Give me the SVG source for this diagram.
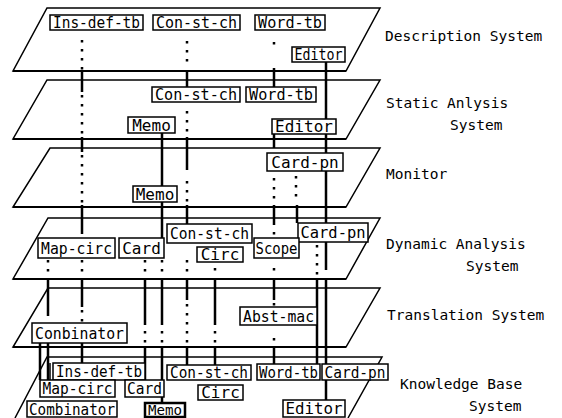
<svg xmlns="http://www.w3.org/2000/svg" width="562" height="418" viewBox="0 0 562 418">
<style>
.bg{fill:#fff}
.layer{fill:none;stroke:#000;stroke-width:1.5;stroke-linejoin:miter}
.edge{fill:none;stroke:#000;stroke-width:2.2}
.c{fill:none;stroke:#000;stroke-width:2.5}
.d{fill:none;stroke:#000;stroke-width:2.5;stroke-dasharray:2.5 6.5}
.box{fill:#fff;stroke:#000;stroke-width:1.5}
.t{font-family:"DejaVu Sans Mono","Liberation Mono",monospace;font-size:16px;fill:#000;text-anchor:middle}
.lbl{font-family:"DejaVu Sans Mono","Liberation Mono",monospace;font-size:14.5px;fill:#000}
</style>
<rect class="bg" x="0" y="0" width="562" height="418"/>
<g id="layers">
<polygon class="layer" points="47,8 380,8 346,71 13,71"/>
<polygon class="layer" points="47,80 380,80 346,139 13,139"/>
<polygon class="layer" points="50,148 380,148 346,207 13,207"/>
<polygon class="layer" points="48,218 380,218 346,279 13,279"/>
<polygon class="layer" points="48,288 380,288 346,347 13,347"/>
<path class="layer" d="M15,418 L47,357 L382,357 L348,418"/>
<path class="edge" d="M13,71 H346 M13,139 H346 M13,207 H346 M13,279 H346 M13,347 H346"/>
</g>
<g id="connectors">
<path class="c" d="M82,70 V92 M82,137 V152 M82,205 V234 M82,278 V307 M82,343 V363"/>
<path class="d" d="M82,40 V70 M82,95 V137 M82,155 V205 M82,260 V276 M82,310 V322"/>
<path class="c" d="M48,278 V316 M48,343 V380 M40,343 V380"/>
<path class="d" d="M48,260 V276"/>
<path class="c" d="M145,278 V325 M145,347 V381"/>
<path class="d" d="M145,260 V276 M145,331 V346"/>
<path class="c" d="M162,133 V186 M162,202 V238 M162,278 V325 M162,347 V403"/>
<path class="d" d="M162,260 V276 M162,331 V346"/>
<path class="c" d="M187,70 V87 M187,137 V170 M187,205 V225 M187,278 V300 M187,347 V365"/>
<path class="d" d="M187,41 V68 M187,111 V135 M187,181 V202 M187,260 V276 M187,304 V345"/>
<path class="c" d="M215,278 V325 M215,347 V365"/>
<path class="d" d="M215,268 V276 M215,331 V346"/>
<path class="c" d="M274,68 V87 M274,134 V148 M274,205 V225 M274,278 V300 M274,347 V364"/>
<path class="d" d="M274,42 V45 M274,178 V202 M274,232 V235 M274,268 V271 M274,303 V306 M274,338 V341"/>
<path class="c" d="M297,205 V223"/>
<path class="d" d="M296,176 V202"/>
<path class="c" d="M317,279 V364"/>
<path class="d" d="M317,245 V275"/>
<path class="c" d="M326,62 V119 M326,134 V153 M326,171 V270 M326,278 V400"/>
</g>
<g id="desc-ins"><rect class="box" x="50" y="15" width="93" height="15"/><text class="t" x="96.5" y="28.3" textLength="87" lengthAdjust="spacingAndGlyphs">Ins-def-tb</text></g>
<g id="desc-con"><rect class="box" x="153" y="15" width="87" height="15"/><text class="t" x="196.5" y="28.3" textLength="81" lengthAdjust="spacingAndGlyphs">Con-st-ch</text></g>
<g id="desc-word"><rect class="box" x="255" y="15" width="70" height="15"/><text class="t" x="290" y="28.3" textLength="64" lengthAdjust="spacingAndGlyphs">Word-tb</text></g>
<g id="desc-editor"><rect class="box" x="292" y="47" width="53" height="15"/><text class="t" x="318.5" y="60.3" textLength="48" lengthAdjust="spacingAndGlyphs">Editor</text></g>
<g id="static-con"><rect class="box" x="152" y="87" width="88" height="15"/><text class="t" x="196" y="100.3" textLength="82" lengthAdjust="spacingAndGlyphs">Con-st-ch</text></g>
<g id="static-word"><rect class="box" x="246" y="87" width="70" height="15"/><text class="t" x="281" y="100.3" textLength="64" lengthAdjust="spacingAndGlyphs">Word-tb</text></g>
<g id="static-memo"><rect class="box" x="128" y="117" width="47" height="16"/><text class="t" x="151.5" y="130.8">Memo</text></g>
<g id="static-editor"><rect class="box" x="272" y="119" width="64" height="15"/><text class="t" x="304" y="132.3">Editor</text></g>
<g id="mon-cardpn"><rect class="box" x="267" y="153" width="76" height="18"/><text class="t" x="305" y="167.8">Card-pn</text></g>
<g id="mon-memo"><rect class="box" x="133" y="186" width="44" height="16"/><text class="t" x="155" y="199.8">Memo</text></g>
<g id="dyn-con"><rect class="box" x="167" y="224" width="85" height="19"/><text class="t" x="209.5" y="239.3" textLength="79" lengthAdjust="spacingAndGlyphs">Con-st-ch</text></g>
<g id="dyn-cardpn"><rect class="box" x="298" y="223" width="70" height="19"/><text class="t" x="333" y="238.3" textLength="65" lengthAdjust="spacingAndGlyphs">Card-pn</text></g>
<g id="dyn-map"><rect class="box" x="38" y="238" width="77" height="20"/><text class="t" x="76.5" y="253.8" textLength="71" lengthAdjust="spacingAndGlyphs">Map-circ</text></g>
<g id="dyn-card"><rect class="box" x="119" y="238" width="45" height="20"/><text class="t" x="141.5" y="253.8">Card</text></g>
<g id="dyn-circ"><rect class="box" x="197" y="247" width="46" height="15"/><text class="t" x="220" y="260.3">Circ</text></g>
<g id="dyn-scope"><rect class="box" x="254" y="238" width="45" height="20"/><text class="t" x="276.5" y="253.8" textLength="42" lengthAdjust="spacingAndGlyphs">Scope</text></g>
<g id="tr-abst"><rect class="box" x="240" y="307" width="77" height="18"/><text class="t" x="278.5" y="321.8" textLength="71" lengthAdjust="spacingAndGlyphs">Abst-mac</text></g>
<g id="tr-conb"><rect class="box" x="32" y="323" width="95" height="20"/><text class="t" x="79.5" y="338.8" textLength="89" lengthAdjust="spacingAndGlyphs">Conbinator</text></g>
<g id="kb-ins"><rect class="box" x="53" y="363" width="92" height="17"/><path class="box" d="M50,363 V380"/><text class="t" x="99" y="377.3" textLength="86" lengthAdjust="spacingAndGlyphs">Ins-def-tb</text></g>
<g id="kb-con"><rect class="box" x="167" y="365" width="84" height="15"/><text class="t" x="209" y="378.3" textLength="78" lengthAdjust="spacingAndGlyphs">Con-st-ch</text></g>
<g id="kb-word"><rect class="box" x="257" y="364" width="63" height="16"/><text class="t" x="288.5" y="377.8" textLength="59" lengthAdjust="spacingAndGlyphs">Word-tb</text></g>
<g id="kb-cardpn"><rect class="box" x="322" y="364" width="66" height="16"/><text class="t" x="355" y="377.8" textLength="61" lengthAdjust="spacingAndGlyphs">Card-pn</text></g>
<g id="kb-map"><rect class="box" x="40" y="380" width="75" height="17"/><text class="t" x="77.5" y="394.3" textLength="70" lengthAdjust="spacingAndGlyphs">Map-circ</text></g>
<g id="kb-card"><rect class="box" x="125" y="380" width="39" height="17"/><text class="t" x="144.5" y="394.3" textLength="35" lengthAdjust="spacingAndGlyphs">Card</text></g>
<g id="kb-circ"><rect class="box" x="198" y="385" width="45" height="15"/><text class="t" x="220.5" y="398.3">Circ</text></g>
<g id="kb-comb"><rect class="box" x="27" y="401" width="90" height="16"/><text class="t" x="72" y="414.8" textLength="86" lengthAdjust="spacingAndGlyphs">Combinator</text></g>
<g id="kb-memo"><rect class="box" x="145" y="403" width="40" height="14" style="stroke-width:2.5"/><text class="t" x="165" y="415.3" style="font-size:14px" textLength="34" lengthAdjust="spacingAndGlyphs">Memo</text></g>
<g id="kb-editor"><rect class="box" x="283" y="400" width="62" height="17"/><text class="t" x="314" y="414.3" textLength="57" lengthAdjust="spacingAndGlyphs">Editor</text></g>
<g id="labels">
<text class="lbl" x="385" y="41">Description System</text>
<text class="lbl" x="386" y="108">Static Anlysis</text>
<text class="lbl" x="450" y="130">System</text>
<text class="lbl" x="386" y="179">Monitor</text>
<text class="lbl" x="386" y="249">Dynamic Analysis</text>
<text class="lbl" x="466" y="271">System</text>
<text class="lbl" x="387" y="320">Translation System</text>
<text class="lbl" x="400" y="389">Knowledge Base</text>
<text class="lbl" x="469" y="411">System</text>
</g>
</svg>
